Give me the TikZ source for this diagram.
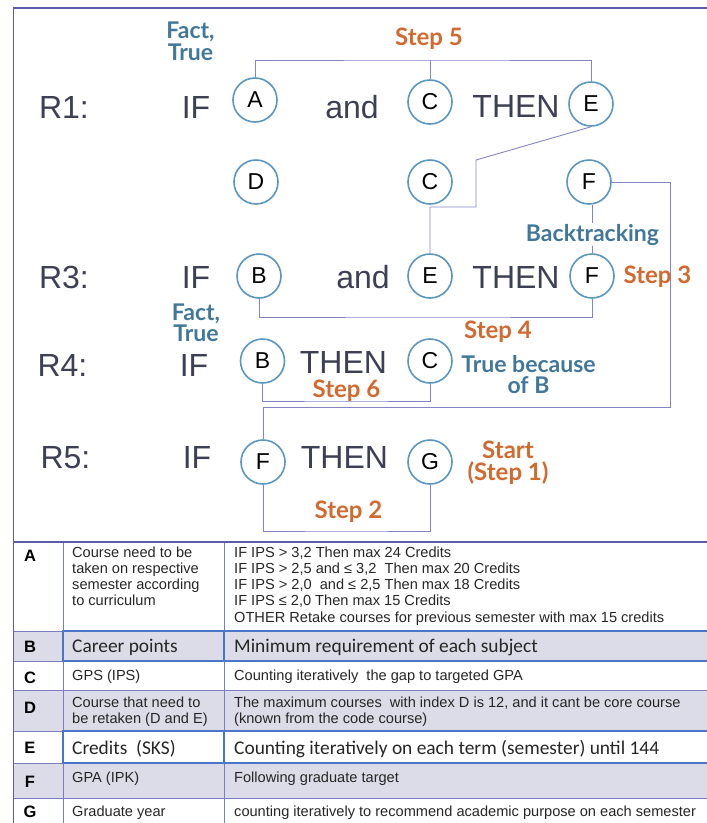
\documentclass[tikz,border=0pt]{standalone}
\usepackage{fontspec}
\setmainfont{Liberation Sans}
\newfontfamily\labelfont{Lato}
\newfontfamily\calfont{Carlito}

\definecolor{framecol}{HTML}{5C5CAE}
\definecolor{conncol}{HTML}{8484C4}
\definecolor{circcol}{HTML}{5A97C0}
\definecolor{kwcol}{HTML}{3D4055}
\definecolor{factcol}{HTML}{41779A}
\definecolor{stepcol}{HTML}{D2692F}
\definecolor{rowgray}{HTML}{DCDCE8}
\definecolor{gridcol}{HTML}{7C7CC0}
\definecolor{emphcol}{HTML}{4A76C8}

\begin{document}
\begin{tikzpicture}[x=1pt,y=-1pt,
  frame/.style={draw=framecol,line width=1.6pt},
  conn/.style={draw=conncol,line width=0.9pt},
  letter/.style={circle,draw=circcol,line width=1.6pt,fill=white,minimum size=44pt,inner sep=0pt,
    font=\fontsize{23}{24}\selectfont,text=black},
  kw/.style={anchor=base,inner sep=0pt,text=kwcol,font=\fontsize{32}{36}\selectfont},
  fact/.style={anchor=base,inner sep=0pt,align=center,text=factcol,font=\labelfont\bfseries\fontsize{23}{21}\selectfont},
  steplbl/.style={anchor=base,inner sep=0pt,align=center,text=stepcol,font=\labelfont\bfseries\fontsize{24}{22}\selectfont},
  gridline/.style={draw=gridcol,line width=0.8pt},
  emph/.style={draw=emphcol,line width=1.4pt},
  key/.style={anchor=base,inner sep=0pt,font=\bfseries\fontsize{16.5}{18}\selectfont},
  cell/.style={anchor=base west,inner sep=0pt,align=left,font=\fontsize{14.6}{16.3}\selectfont,text=black!85},
  bigcell/.style={anchor=base west,inner sep=0pt,align=left,font=\calfont\fontsize{19.4}{22}\selectfont,text=black!85}
]
\useasboundingbox (0,0) rectangle (707,823);

% ---------- table background ----------
\fill[rowgray] (13.5,631) rectangle (707,661);
\fill[rowgray] (13.5,690) rectangle (707,731);
\fill[rowgray] (13.5,763) rectangle (707,798);

% ---------- table grid ----------
\draw[gridline] (63,542) -- (63,823);
\draw[gridline] (224,542) -- (224,823);
\foreach \yy in {631,661,690,731,763,798}
  \draw[gridline] (13.5,\yy) -- (707,\yy);
% highlighted rows B and E
\draw[emph] (63,631) rectangle (710,661);
\draw[emph] (224,631) -- (224,661);
\draw[emph] (63,731) rectangle (710,763);
\draw[emphcol,line width=2.4pt] (63,763) -- (707,763);
\draw[emph] (224,731) -- (224,763);

% ---------- outer frame ----------
\draw[frame] (707,8) -| (13.5,823);
\draw[frame] (13.5,542) -- (707,542);

% ---------- rule R1 ----------
\node[kw] (r1) at (64,118) {R1:};
\node[kw] (if1) at (196,118) {IF};
\node[letter] (A1) at (255,100) {A};
\node[kw] (and1) at (352,118) {and};
\node[letter] (C1) at (430,102) {C};
\node[kw] (then1) at (516,117) {THEN};
\node[letter] (E1) at (591,104) {E};
% multi-line labels are placed by the baseline of their last line
\node[fact] (fact1) at (190.5,60) {Fact,\\[1pt]True};
\node[steplbl] (step5) at (429,45) {Step 5};

% second row of facts
\node[letter] (D2) at (256,182) {D};
\node[letter] (C2) at (430,182) {C};
\node[letter] (F2) at (589,182) {F};

% ---------- rule R3 ----------
\node[kw] (r3) at (64,288) {R3:};
\node[kw] (if3) at (196,288) {IF};
\node[letter] (B3) at (259,276) {B};
\node[kw] (and3) at (363,288) {and};
\node[letter] (E3) at (430,276) {E};
\node[kw] (then3) at (516,288) {THEN};
\node[letter] (F3) at (592,276) {F};

% ---------- rule R4 ----------
\node[kw] (r4) at (62.5,376) {R4:};
\node[kw] (if4) at (194,376) {IF};
\node[letter] (B4) at (262.5,361) {B};
\node[kw] (then4) at (343.5,373) {THEN};
\node[letter] (C4) at (430,361) {C};
\node[fact] (fact2) at (196,341) {Fact,\\[0pt]True};

% ---------- rule R5 ----------
\node[kw] (r5) at (65.5,468) {R5:};
\node[kw] (if5) at (197,468) {IF};
\node[letter] (F5) at (263,462) {F};
\node[kw] (then5) at (344.5,468) {THEN};
\node[letter] (G5) at (430,462) {G};

% ---------- connectors ----------
\coordinate (s5) at (430,60);
\draw[conn] (A1.north) |- (s5) -| (E1.north);
\draw[conn] (C1.north) -- (C1.north |- s5);

\coordinate (k1) at (476,160);
\coordinate (k2) at (476,207);
\draw[conn] (E1.south) -- (k1) -- (k2) -| (E3.north);

\draw[conn] (F3.north) -- (F3.north |- F2.south);

\coordinate (rt) at (670,407);
\draw[conn] (F2.east) -| (rt) -| (F5.north);

\coordinate (s4) at (430,317);
\draw[conn] (B3.south) |- (s4) -| (F3.south);

\coordinate (s6) at (346,401);
\draw[conn] (B4.south) |- (s6) -| (C4.south);

\coordinate (s2) at (346,531);
\draw[conn] (F5.south) |- (s2) -| (G5.south);

% ---------- annotations ----------
\node[fact,fill=white,inner sep=1pt] (back) at (592.5,241) {Backtracking};
\node[steplbl] (step3) at (657.5,283) {Step 3};
\node[steplbl] (step4) at (498,338) {Step 4};
\node[fact] (because) at (528.5,393) {True because\\[0pt]of B};
\node[steplbl] (step6) at (346.5,397) {Step 6};
\node[steplbl] (start) at (508,480) {Start\\(Step 1)};
\node[steplbl] (step2) at (348.5,518) {Step 2};

% ---------- legend table ----------
\node[key] (kA) at (30,561) {A};
\node[cell] (dA) at (72,605.9) {Course need to be\\taken on respective\\semester according\\to curriculum};
\node[cell] (rA) at (234,622.2) {IF IPS > 3,2 Then max 24 Credits\\
IF IPS > 2,5 and ≤ 3,2\ \ Then max 20 Credits\\
IF IPS > 2,0\ \ and ≤ 2,5 Then max 18 Credits\\
IF IPS ≤ 2,0 Then max 15 Credits\\
OTHER Retake courses for previous semester with max 15 credits};

\node[key] (kB) at (30,652) {B};
\node[bigcell] (dB) at (72,652) {Career points};
\node[bigcell] (rB) at (234,652) {Minimum requirement of each subject};

\node[key] (kC) at (30,683) {C};
\node[cell] (dC) at (72,680) {GPS (IPS)};
\node[cell] (rC) at (234,680) {Counting iteratively\ \ the gap to targeted GPA};

\node[key] (kD) at (30,713) {D};
\node[cell] (dD) at (72,723.3) {Course that need to\\be retaken (D and E)};
\node[cell] (rD) at (234,723.3) {The maximum courses\ \ with index D is 12, and it cant be core course\\(known from the code course)};

\node[key] (kE) at (30,753) {E};
\node[bigcell] (dE) at (72,754) {Credits\ \ (SKS)};
\node[bigcell] (rE) at (234,754) {Counting iteratively on each term (semester) until 144};

\node[key] (kF) at (30,787) {F};
\node[cell] (dF) at (72,782) {GPA (IPK)};
\node[cell] (rF) at (234,782) {Following graduate target};

\node[key] (kG) at (30,817) {G};
\node[cell] (dG) at (72,816) {Graduate year};
\node[cell] (rG) at (234,816) {counting iteratively to recommend academic purpose on each semester};
\end{tikzpicture}
\end{document}
